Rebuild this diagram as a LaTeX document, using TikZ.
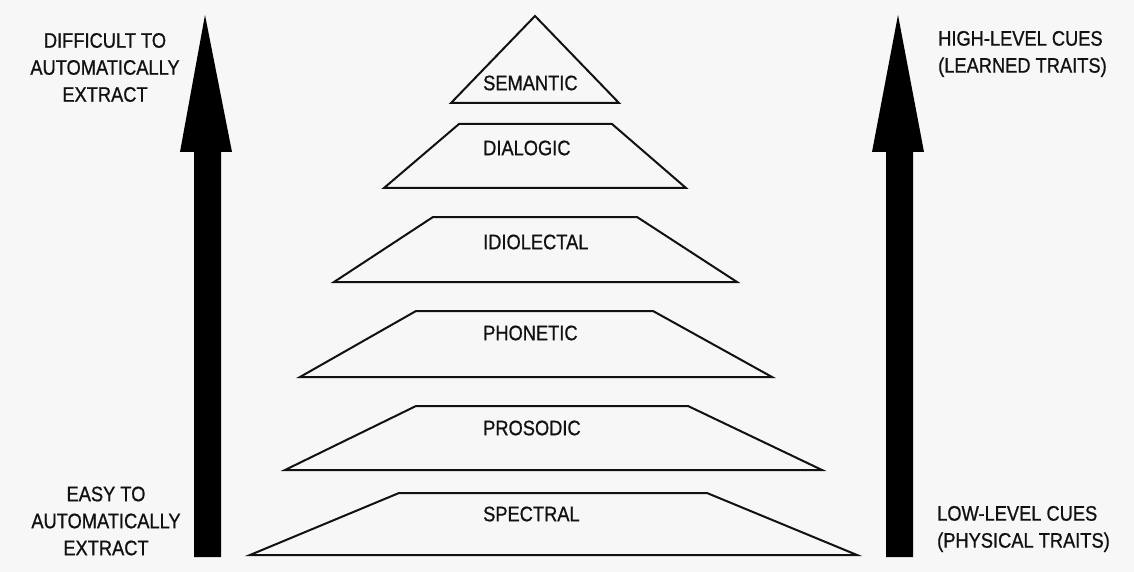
\documentclass[tikz,border=0pt]{standalone}
\usepackage{fontspec}
\setmainfont{Liberation Sans}[FakeStretch=0.87, FakeBold=0.8]
\definecolor{bgc}{HTML}{F7F7F7}
\definecolor{ink}{HTML}{111111}
\tikzset{
  layer/.style={draw=ink, line width=2pt, line join=miter},
  bigarrow/.style={fill=black, draw=none},
  lbl/.style={inner sep=0pt, text=ink, font=\fontsize{21}{27}\selectfont},
  layerlbl/.style={lbl, anchor=west},
}
\begin{document}
\begin{tikzpicture}[x=1pt, y=-1pt]
\fill[bgc] (0,0) rectangle (1134,572);
\useasboundingbox (0,0) rectangle (1134,572);
% arrows
\fill[bigarrow] (194,557) -- (221,557) -- (221,152) -- (232,152) -- (205,15) -- (180,152) -- (194,152) -- cycle;
\fill[bigarrow] (886,557) -- (913,557) -- (913,152) -- (924,152) -- (898,15) -- (872,152) -- (886,152) -- cycle;
% layers
\draw[layer] (535,16) -- (619,103) -- (451,103) -- cycle;
\draw[layer] (459,124) -- (612,124) -- (686,188) -- (384,188) -- cycle;
\draw[layer] (433,217) -- (637,217) -- (737,282) -- (334,282) -- cycle;
\draw[layer] (416,311) -- (653,311) -- (772,377) -- (300,377) -- cycle;
\draw[layer] (416,406) -- (688,406) -- (822,470) -- (285,470) -- cycle;
\draw[layer] (399,493) -- (707,493) -- (857,555) -- (250,555) -- cycle;
% layer labels
\node[layerlbl] (semantic) at (483,83) {SEMANTIC};
\node[layerlbl] (dialogic) at (483,148) {DIALOGIC};
\node[layerlbl] (idiolectal) at (483,242) {IDIOLECTAL};
\node[layerlbl] (phonetic) at (483,333) {PHONETIC};
\node[layerlbl] (prosodic) at (483,428) {PROSODIC};
\node[layerlbl] (spectral) at (483,514) {SPECTRAL};
% side labels
\node[lbl, align=center] (difficult) at (105,67.5) {DIFFICULT TO\\AUTOMATICALLY\\EXTRACT};
\node[lbl, align=center] (easy) at (106,521) {EASY TO\\AUTOMATICALLY\\EXTRACT};
\node[lbl, align=left, anchor=west] (high) at (938,54) {HIGH-LEVEL CUES\\(LEARNED TRAITS)};
\node[lbl, align=left, anchor=west] (low) at (937,529) {LOW-LEVEL CUES\\(PHYSICAL TRAITS)};
\end{tikzpicture}
\end{document}
